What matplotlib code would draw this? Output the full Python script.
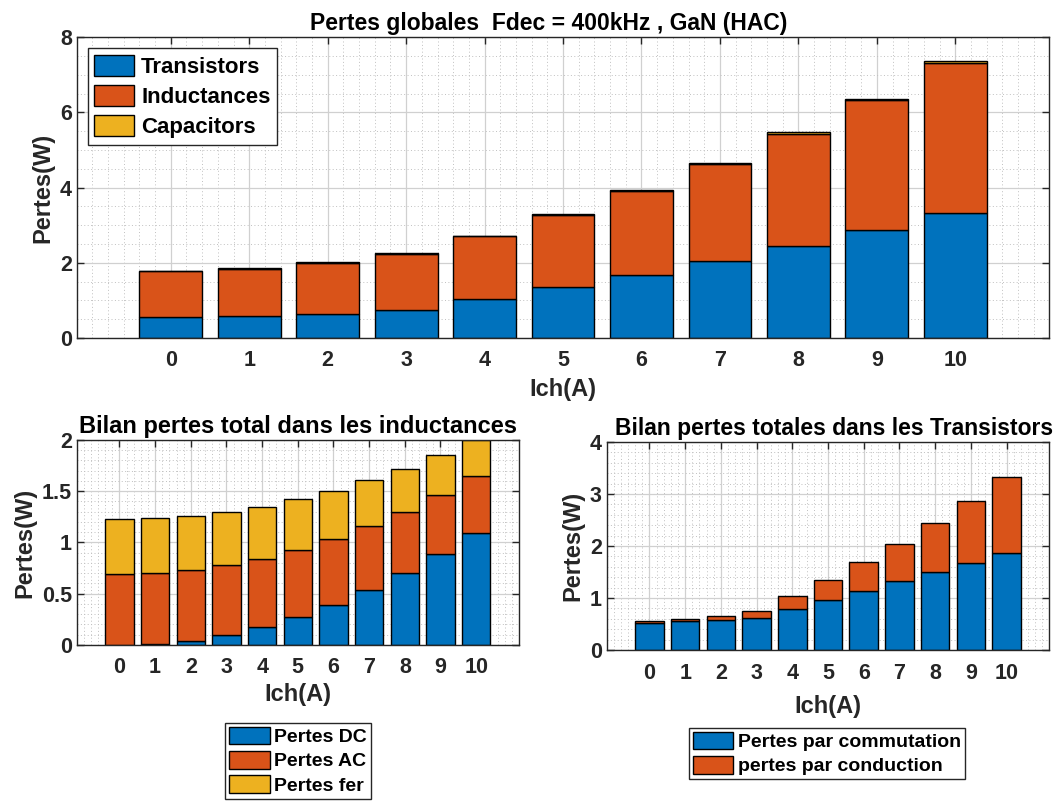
import matplotlib
matplotlib.use('Agg')
import matplotlib.pyplot as plt
from matplotlib.ticker import MultipleLocator
import numpy as np

plt.rcParams['font.family'] = ['Liberation Sans', 'DejaVu Sans']
plt.rcParams['font.weight'] = 'bold'

ich = np.arange(0, 11)

# top chart : pertes globales
p_trans = [0.55, 0.587, 0.65, 0.755, 1.04, 1.35, 1.68, 2.05, 2.445, 2.87, 3.32]
p_ind = [1.235, 1.253, 1.345, 1.475, 1.66, 1.92, 2.225, 2.58, 2.995, 3.46, 3.995]
p_cap = [0.01, 0.01, 0.015, 0.02, 0.02, 0.02, 0.025, 0.03, 0.035, 0.04, 0.05]

# bottom left : inductances
p_dc = [0.0, 0.007, 0.042, 0.095, 0.173, 0.271, 0.389, 0.533, 0.699, 0.886, 1.095]
p_ac = [0.693, 0.696, 0.687, 0.683, 0.67, 0.657, 0.647, 0.627, 0.601, 0.575, 0.549]
p_fer = [0.539, 0.536, 0.529, 0.519, 0.507, 0.494, 0.471, 0.445, 0.419, 0.389, 0.356]

# bottom right : transistors
p_comm = [0.526, 0.552, 0.578, 0.61, 0.79, 0.963, 1.143, 1.323, 1.502, 1.682, 1.862]
p_cond = [0.032, 0.038, 0.077, 0.148, 0.244, 0.379, 0.546, 0.725, 0.938, 1.188, 1.464]

c1 = '#0072BD'
c2 = '#D95319'
c3 = '#EDB120'
tick_col = '#262626'


def style(ax, ymaj, ymin, ymax, xpad=2):
    ax.set_xlim(-1.2, 11.2)
    ax.set_ylim(0, ymax)
    ax.set_xticks(ich)
    ax.yaxis.set_major_locator(MultipleLocator(ymaj))
    ax.xaxis.set_minor_locator(MultipleLocator(0.2))
    ax.yaxis.set_minor_locator(MultipleLocator(ymin))
    ax.grid(True, which='major', color='#d0d0d0', linewidth=0.9)
    ax.grid(True, which='minor', color='#c0c0c0', linestyle=(0, (1, 2.5)), linewidth=0.7)
    ax.set_axisbelow(True)
    ax.tick_params(which='major', direction='in', top=True, right=True, length=5,
                   labelsize=15.5, colors=tick_col, width=1)
    ax.tick_params(axis='x', which='major', pad=9)
    ax.tick_params(which='minor', length=0)
    for lab in ax.get_xticklabels() + ax.get_yticklabels():
        lab.set_fontweight('bold')
    for s in ax.spines.values():
        s.set_color(tick_col)
        s.set_linewidth(1)
    ax.set_xlabel('Ich(A)', fontsize=17, fontweight='bold', color=tick_col, labelpad=xpad)
    ax.set_ylabel('Pertes(W)', fontsize=17, fontweight='bold', color=tick_col, labelpad=4)


leg_kw = dict(prop={'weight': 'bold', 'size': 14}, fancybox=False, edgecolor='#262626',
              framealpha=1, borderpad=0.2, labelspacing=0.25, handlelength=2.1,
              handleheight=1.0, handletextpad=0.25, borderaxespad=0)

fig = plt.figure(figsize=(10.6, 8.02), dpi=100)

# top
ax1 = fig.add_axes([0.0723, 0.5786, 0.9177, 0.3749])
ax1.bar(ich, p_trans, 0.8, color=c1, edgecolor='black', linewidth=1, label='Transistors')
bot = np.array(p_trans)
ax1.bar(ich, p_ind, 0.8, bottom=bot, color=c2, edgecolor='black', linewidth=1, label='Inductances')
bot = bot + np.array(p_ind)
ax1.bar(ich, p_cap, 0.8, bottom=bot, color=c3, edgecolor='black', linewidth=1, label='Capacitors')
style(ax1, 2, 0.5, 8, xpad=5)
ax1.set_title('Pertes globales  Fdec = 400kHz , GaN (HAC)', fontsize=16.5, fontweight='bold',
              pad=5, x=0.4856)
ax1.legend(loc='upper left', prop={'weight': 'bold', 'size': 16}, fancybox=False,
           edgecolor='#262626', framealpha=1, borderpad=0.3, labelspacing=0.3,
           handlelength=1.8, handleheight=1.1, handletextpad=0.3, borderaxespad=0.5)

# bottom left
ax2 = fig.add_axes([0.0723, 0.1958, 0.4173, 0.2556])
ax2.bar(ich, p_dc, 0.8, color=c1, edgecolor='black', linewidth=1, label='Pertes DC')
bot = np.array(p_dc)
ax2.bar(ich, p_ac, 0.8, bottom=bot, color=c2, edgecolor='black', linewidth=1, label='Pertes AC')
bot = bot + np.array(p_ac)
ax2.bar(ich, p_fer, 0.8, bottom=bot, color=c3, edgecolor='black', linewidth=1, label='Pertes fer')
style(ax2, 0.5, 0.1, 2, xpad=3)
ax2.set_yticks([0, 0.5, 1, 1.5, 2])
ax2.set_yticklabels(['0', '0.5', '1', '1.5', '2'])
ax2.set_title('Bilan pertes total dans les inductances', fontsize=17, fontweight='bold', pad=5)
fig.legend(handles=ax2.containers, labels=['Pertes DC', 'Pertes AC', 'Pertes fer'],
           loc='upper center', bbox_to_anchor=(298 / 1060, 1 - 723 / 802), **leg_kw)

# bottom right
ax3 = fig.add_axes([0.5723, 0.1895, 0.4177, 0.2594])
ax3.bar(ich, p_comm, 0.8, color=c1, edgecolor='black', linewidth=1, label='Pertes par commutation')
ax3.bar(ich, p_cond, 0.8, bottom=p_comm, color=c2, edgecolor='black', linewidth=1, label='pertes par conduction')
style(ax3, 1, 0.2, 4, xpad=8)
ax3.set_title('Bilan pertes totales dans les Transistors', fontsize=16.5, fontweight='bold',
              pad=5, x=0.5135)
fig.legend(handles=ax3.containers, labels=['Pertes par commutation', 'pertes par conduction'],
           loc='upper center', bbox_to_anchor=(827 / 1060, 1 - 728 / 802), **leg_kw)

fig.savefig('out.png', dpi=100)
